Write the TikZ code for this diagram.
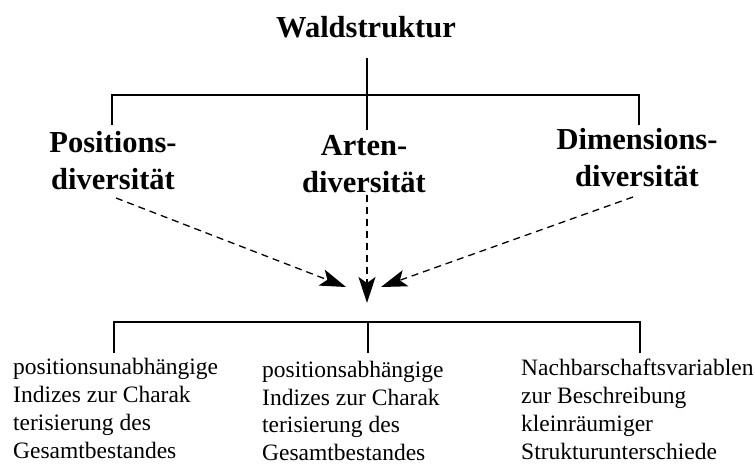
\documentclass[tikz,border=0pt]{standalone}
\usepackage{fontspec}
\setmainfont{Liberation Serif}
\usetikzlibrary{arrows.meta}
\begin{document}
\begin{tikzpicture}[x=1pt,y=-1pt,
  head/.style={font=\fontsize{30.5}{37}\selectfont\bfseries, align=center, inner sep=0pt, anchor=base},
  leaf/.style={font=\fontsize{23.5}{27.7}\selectfont, align=left, inner sep=0pt, anchor=base west},
  tree/.style={line width=1.2pt},
  flow/.style={line width=1.3pt, dash pattern=on 7pt off 5pt, -{Stealth[length=26pt,width=17pt,inset=6pt]}}]
\useasboundingbox (0,0) rectangle (755,465);
% headings (anchor = baseline of last line)
\node[head] (wald) at (366,38) {Waldstruktur};
\node[head] (pos) at (113,190) {Positions-\\diversität};
\node[head] (art) at (364,193) {Arten-\\diversität};
\node[head] (dim) at (637,187) {Dimensions-\\diversität};
% leaves (anchor = baseline of last line)
\node[leaf] (l1) at (13,458) {positionsunabhängige\\Indizes zur Charak\\terisierung des\\Gesamtbestandes};
\node[leaf] (l2) at (262,460.5) {positionsabhängige\\Indizes zur Charak\\terisierung des\\Gesamtbestandes};
\node[leaf] (l3) at (521,459) {Nachbarschaftsvariablen\\zur Beschreibung\\kleinräumiger\\Strukturunterschiede};
% upper tree
\coordinate (t0) at (367,58);
\coordinate (tM) at (367,95);
\coordinate (tA) at (367,130);
\coordinate (tL) at (112,95);
\coordinate (tLd) at (112,125);
\coordinate (tR) at (639,95);
\coordinate (tRd) at (639,125);
\draw[tree] (t0) -- (tA);
\draw[tree] (tLd) -- (tL) -- (tR) -- (tRd);
% dashed arrows
\coordinate (sL) at (116,198);
\coordinate (sC) at (367,195);
\coordinate (sR) at (633,197);
\coordinate (eL) at (346,287);
\coordinate (eC) at (367,303);
\coordinate (eR) at (381,287);
\draw[flow] (sL) -- (eL);
\draw[flow] (sC) -- (eC);
\draw[flow] (sR) -- (eR);
% lower tree
\coordinate (bL) at (114,322);
\coordinate (bM) at (368,322);
\coordinate (bR) at (640,322);
\coordinate (bLd) at (114,353);
\coordinate (bMd) at (368,353);
\coordinate (bRd) at (640,353);
\draw[tree] (bLd) -- (bL) -- (bR) -- (bRd);
\draw[tree] (bM) -- (bMd);
\end{tikzpicture}
\end{document}
